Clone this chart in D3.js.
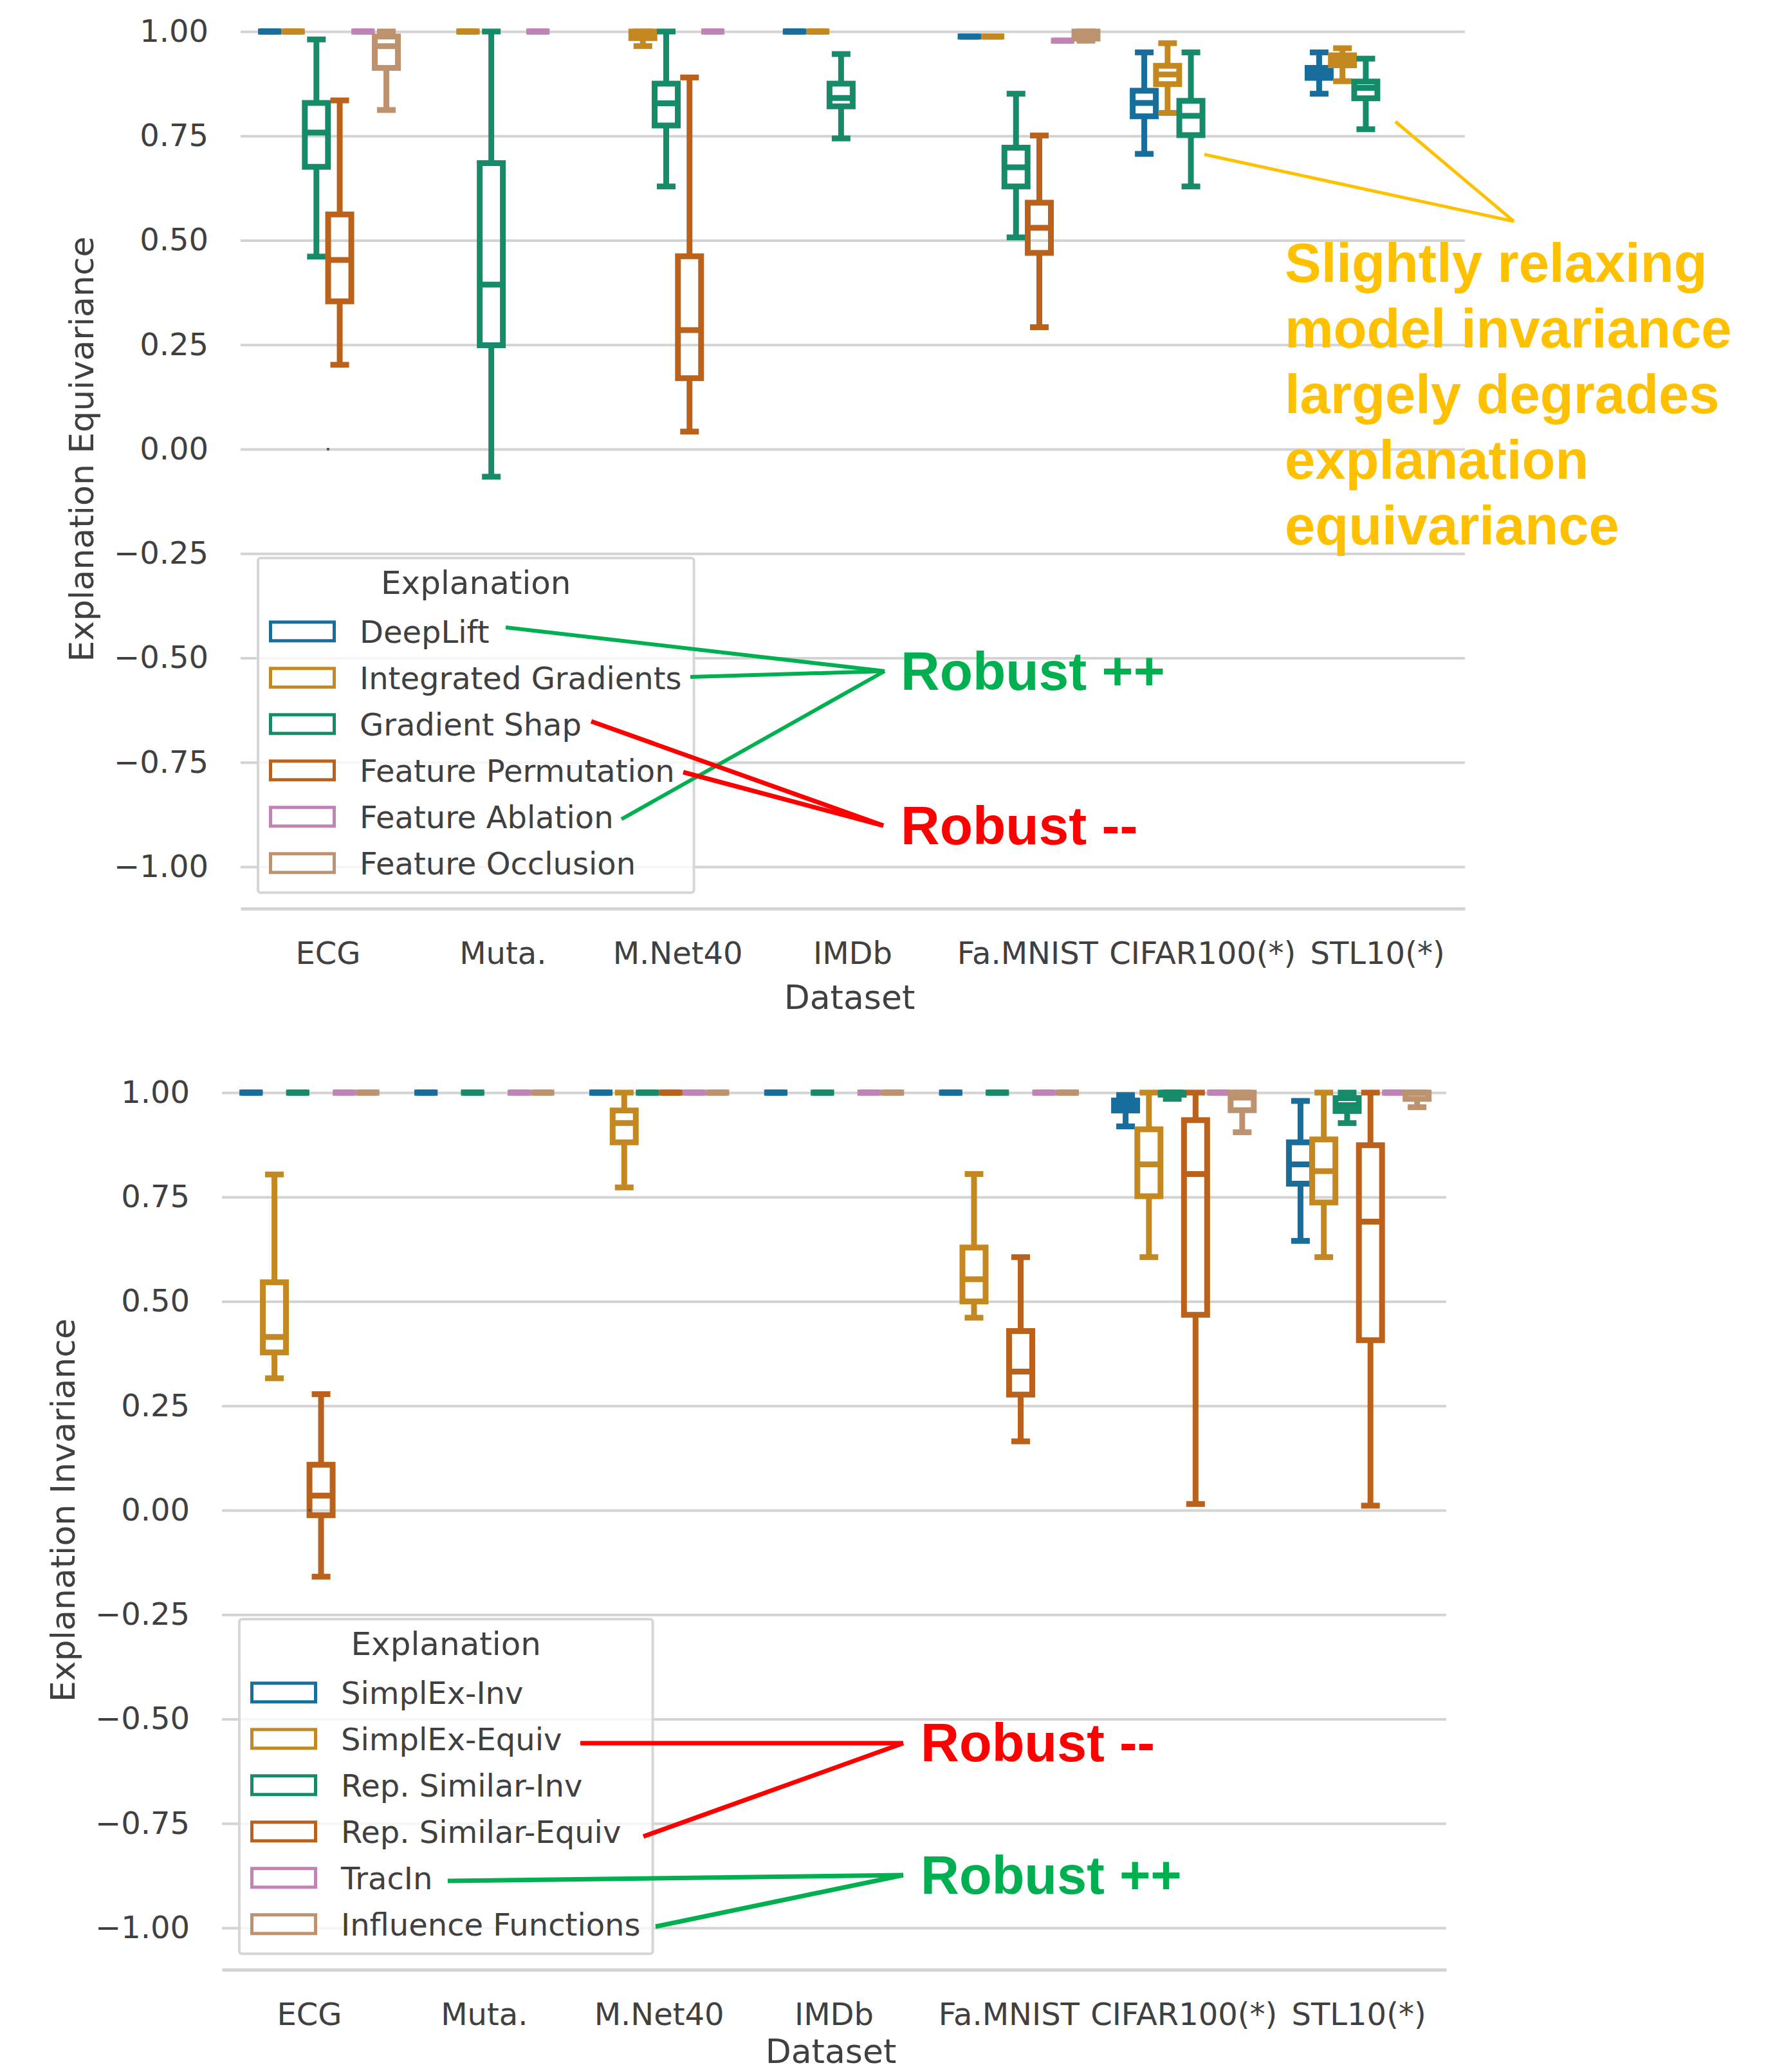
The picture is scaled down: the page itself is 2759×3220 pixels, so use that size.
<!DOCTYPE html>
<html>
<head>
<meta charset="utf-8">
<script src="https://cdn.jsdelivr.net/npm/d3@7/dist/d3.min.js"></script>
<style>
  html, body { margin: 0; background: #fff; }
  svg { display: block; }
  text { font-family: "DejaVu Sans", sans-serif; fill: #404040; }
  text.callout { font-family: "Liberation Sans", Arial, sans-serif; font-weight: bold; }
</style>
</head>
<body>
<div id="chart"></div>
<script>
const datasets = ["ECG", "Muta.", "M.Net40", "IMDb", "Fa.MNIST", "CIFAR100(*)", "STL10(*)"];
const yTicks = [-1, -0.75, -0.5, -0.25, 0, 0.25, 0.5, 0.75, 1];
const palette = ["#176d9c", "#c38820", "#168b6a", "#ba611b", "#c183b5", "#bd926e"];

// each entry: [low whisker, q1, median, q3, high whisker], null = not run on that dataset
const featureMethods = ["DeepLift", "Integrated Gradients", "Gradient Shap", "Feature Permutation", "Feature Ablation", "Feature Occlusion"];
const deepLift = [[1, 1, 1, 1, 1], null, null, [1, 1, 1, 1, 1], [0.988, 0.988, 0.988, 0.988, 0.988],
  [0.707, 0.797, 0.829, 0.858, 0.95], [0.851, 0.889, 0.901, 0.913, 0.95]];
const integratedGradients = [[1, 1, 1, 1, 1], [1, 1, 1, 1, 1], [0.965, 0.984, 0.995, 1, 1], [1, 1, 1, 1, 1],
  [0.988, 0.988, 0.988, 0.988, 0.988], [0.805, 0.874, 0.897, 0.918, 0.972], [0.881, 0.919, 0.932, 0.943, 0.96]];
const gradientShap = [[0.461, 0.676, 0.758, 0.829, 0.981], [-0.066, 0.249, 0.394, 0.685, 1], [0.629, 0.775, 0.828, 0.875, 1],
  [0.744, 0.821, 0.841, 0.875, 0.946], [0.507, 0.629, 0.675, 0.722, 0.851], [0.629, 0.752, 0.798, 0.834, 0.95],
  [0.766, 0.84, 0.865, 0.88, 0.935]];
const featurePermutation = [[0.202, 0.354, 0.453, 0.562, 0.835], null, [0.042, 0.17, 0.285, 0.462, 0.89], null,
  [0.292, 0.47, 0.53, 0.59, 0.751], null, null];
const featureAblation = [[1, 1, 1, 1, 1], [1, 1, 1, 1, 1], [1, 1, 1, 1, 1], null, [0.978, 0.978, 0.978, 0.978, 0.978], null, null];
const featureOcclusion = [[0.812, 0.913, 0.965, 0.988, 1], null, null, null, [0.978, 0.983, 0.99, 1, 1], null, null];
const featureStats = [deepLift, integratedGradients, gradientShap, featurePermutation, featureAblation, featureOcclusion];

const exampleMethods = ["SimplEx-Inv", "SimplEx-Equiv", "Rep. Similar-Inv", "Rep. Similar-Equiv", "TracIn", "Influence Functions"];
const simplexInv = [[1, 1, 1, 1, 1], [1, 1, 1, 1, 1], [1, 1, 1, 1, 1], [1, 1, 1, 1, 1], [1, 1, 1, 1, 1],
  [0.919, 0.957, 0.969, 0.981, 0.994], [0.645, 0.782, 0.828, 0.881, 0.98]];
const simplexEquiv = [[0.316, 0.378, 0.415, 0.546, 0.804], null, [0.773, 0.881, 0.927, 0.957, 1], null,
  [0.461, 0.5, 0.553, 0.629, 0.805], [0.606, 0.752, 0.828, 0.912, 1], [0.606, 0.737, 0.812, 0.888, 1]];
const repSimilarInv = [[1, 1, 1, 1, 1], [1, 1, 1, 1, 1], [1, 1, 1, 1, 1], [1, 1, 1, 1, 1], [1, 1, 1, 1, 1],
  [0.985, 0.995, 1, 1, 1], [0.927, 0.956, 0.97, 0.987, 1]];
const repSimilarEquiv = [[-0.159, -0.012, 0.035, 0.109, 0.278], null, [1, 1, 1, 1, 1], null,
  [0.165, 0.277, 0.332, 0.429, 0.606], [0.015, 0.468, 0.805, 0.934, 1], [0.011, 0.407, 0.691, 0.874, 1]];
const tracIn = [[1, 1, 1, 1, 1], [1, 1, 1, 1, 1], [1, 1, 1, 1, 1], [1, 1, 1, 1, 1], [1, 1, 1, 1, 1], [1, 1, 1, 1, 1], [1, 1, 1, 1, 1]];
const influenceFunctions = [[1, 1, 1, 1, 1], [1, 1, 1, 1, 1], [1, 1, 1, 1, 1], [1, 1, 1, 1, 1], [1, 1, 1, 1, 1],
  [0.905, 0.958, 0.988, 1, 1], [0.965, 0.985, 1, 1, 1]];
const exampleStats = [simplexInv, simplexEquiv, repSimilarInv, repSimilarEquiv, tracIn, influenceFunctions];

// tiny stray marker drawn at the category centre
const strayPoints = [["ECG", 0]];

const W = 2759, H = 3220;
const svg = d3.select("#chart").append("svg").attr("width", W).attr("height", H).attr("viewBox", `0 0 ${W} ${H}`);

function panel(cfg) {
  const g = svg.append("g");
  const x = d3.scaleBand().domain(datasets).range([cfg.left, cfg.right]);
  const y = d3.scaleLinear().domain([-1.1, 1.05]).range([cfg.bottom, cfg.top]);
  const hue = d3.scaleBand().domain(cfg.methods).range([-0.4 * x.bandwidth(), 0.4 * x.bandwidth()]);
  const boxW = 36, capW = 29, lw = 9;

  const grid = g.append("g").attr("transform", `translate(${cfg.left},0)`)
    .call(d3.axisLeft(y).tickValues(yTicks).tickSize(-(cfg.right - cfg.left)).tickFormat(""));
  grid.select(".domain").remove();
  grid.selectAll("line").attr("stroke", "#d3d3d3").attr("stroke-width", 4);

  const yAxis = g.append("g").attr("transform", `translate(${cfg.left},0)`)
    .call(d3.axisLeft(y).tickValues(yTicks).tickSize(0).tickPadding(50).tickFormat(d3.format(".2f")));
  yAxis.select(".domain").remove();
  yAxis.selectAll("text").attr("font-size", 48).attr("font-family", null).attr("fill", "#404040");

  const xAxis = g.append("g").attr("transform", `translate(0,${cfg.bottom})`)
    .call(d3.axisBottom(x).tickSize(0).tickSizeOuter(0).tickPadding(52));
  xAxis.select(".domain").attr("stroke", "#d3d3d3").attr("stroke-width", 5);
  xAxis.selectAll("text").attr("font-size", 48).attr("font-family", null).attr("fill", "#404040");

  g.append("text").attr("x", (cfg.left + cfg.right) / 2 - 5).attr("y", cfg.bottom + cfg.titleGap)
    .attr("text-anchor", "middle").attr("font-size", 52).text("Dataset");
  g.append("text").attr("transform", `translate(${cfg.left - 229},${y(0)}) rotate(-90)`)
    .attr("text-anchor", "middle").attr("font-size", 52).text(cfg.yLabel);

  const boxes = g.append("g").attr("fill", "none").attr("stroke-width", lw);
  datasets.forEach((ds, di) => {
    cfg.methods.forEach((m, mi) => {
      const s = cfg.stats[mi][di];
      if (!s) return;
      const [lo, q1, med, q3, hi] = s;
      const cx = x(ds) + x.bandwidth() / 2 + hue(m) + hue.bandwidth() / 2;
      const b = boxes.append("g").attr("stroke", palette[mi]);
      b.append("line").attr("x1", cx).attr("x2", cx).attr("y1", y(q3)).attr("y2", y(hi));
      b.append("line").attr("x1", cx).attr("x2", cx).attr("y1", y(q1)).attr("y2", y(lo));
      b.append("line").attr("x1", cx - capW / 2).attr("x2", cx + capW / 2).attr("y1", y(hi)).attr("y2", y(hi));
      b.append("line").attr("x1", cx - capW / 2).attr("x2", cx + capW / 2).attr("y1", y(lo)).attr("y2", y(lo));
      b.append("path").attr("stroke-linejoin", "miter")
        .attr("d", `M${cx - boxW / 2},${y(q3)}H${cx + boxW / 2}V${y(q1)}H${cx - boxW / 2}Z`);
      b.append("line").attr("x1", cx - boxW / 2).attr("x2", cx + boxW / 2).attr("y1", y(med)).attr("y2", y(med));
    });
  });

  g.selectAll("rect.stray").data(strayPoints).join("rect").attr("class", "stray")
    .attr("x", (d) => x(d[0]) + x.bandwidth() / 2 - 2).attr("y", (d) => y(d[1]) - 2)
    .attr("width", 4).attr("height", 4).attr("fill", "#555");

  // legend
  const top = y(-0.25) + 7;
  const lg = g.append("g");
  const frame = lg.append("rect").attr("x", cfg.left + 27).attr("y", top).attr("height", 520).attr("rx", 4)
    .attr("fill", "rgba(255,255,255,0.8)").attr("stroke", "#d6d6d6").attr("stroke-width", 4);
  const textX = cfg.left + 185;
  let maxLen = 0;
  cfg.methods.forEach((m, i) => {
    const cy = top + 114 + i * 72;
    lg.append("rect").attr("x", cfg.left + 46.5).attr("y", cy - 14.5).attr("width", 99).attr("height", 29)
      .attr("fill", "#fff").attr("stroke", palette[i]).attr("stroke-width", 5);
    const t = lg.append("text").attr("x", textX).attr("y", cy).attr("dy", "0.36em").attr("font-size", 48).text(m);
    maxLen = Math.max(maxLen, t.node().getComputedTextLength());
  });
  const right = textX + maxLen + 19;
  frame.attr("width", right - (cfg.left + 27));
  lg.append("text").attr("x", (cfg.left + 27 + right) / 2).attr("y", top + 56)
    .attr("text-anchor", "middle").attr("font-size", 50).text("Explanation");
}

panel({ left: 374, right: 2277, top: 16.5, bottom: 1412, titleGap: 156, methods: featureMethods, stats: featureStats,
  yLabel: "Explanation Equivariance" });
panel({ left: 345, right: 2248, top: 1665.5, bottom: 3061, titleGap: 145, methods: exampleMethods, stats: exampleStats,
  yLabel: "Explanation Invariance" });

// hand-drawn annotations on top of the figure
const callouts = [
  { lines: ["Robust ++"], color: "#00b050", x: 1400, y: 1072, size: 84, width: 6,
    links: [[786, 975, 1375, 1043], [1073, 1052, 1375, 1043], [966, 1273, 1375, 1043]] },
  { lines: ["Robust --"], color: "#ff0000", x: 1400, y: 1312, size: 84, width: 7,
    links: [[919, 1121, 1373, 1283], [1062, 1200, 1373, 1283]] },
  { lines: ["Slightly relaxing", "model invariance", "largely degrades", "explanation", "equivariance"],
    color: "#ffc000", x: 1997, y: 438, size: 85, width: 5,
    links: [[1872, 240, 2353, 344], [2169, 189, 2353, 344]] },
  { lines: ["Robust --"], color: "#ff0000", x: 1431, y: 2737, size: 83, width: 7,
    links: [[902, 2709, 1404, 2709], [1000, 2854, 1404, 2709]] },
  { lines: ["Robust ++"], color: "#00b050", x: 1431, y: 2943, size: 83, width: 7,
    links: [[696, 2923, 1404, 2914], [1019, 2994, 1404, 2914]] },
];
const ann = svg.append("g");
callouts.forEach((c) => {
  c.links.forEach(([x1, y1, x2, y2]) => {
    ann.append("line").attr("x1", x1).attr("y1", y1).attr("x2", x2).attr("y2", y2)
      .attr("stroke", c.color).attr("stroke-width", c.width);
  });
  const t = ann.append("text").attr("class", "callout").attr("x", c.x).attr("y", c.y)
    .attr("font-size", c.size).style("fill", c.color);
  c.lines.forEach((line, i) => {
    t.append("tspan").attr("x", c.x).attr("dy", i === 0 ? 0 : 102).text(line);
  });
});
</script>
</body>
</html>
